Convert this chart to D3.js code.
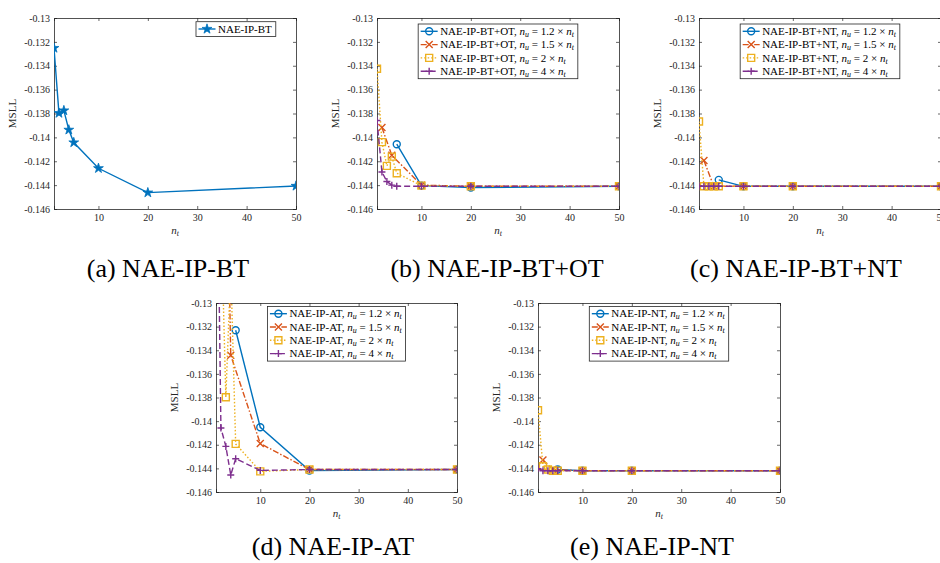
<!DOCTYPE html>
<html>
<head>
<meta charset="utf-8">
<script src="https://cdn.jsdelivr.net/npm/d3@7"></script>
<style>
  body { margin: 0; background: #fff; }
  svg { display: block; }
</style>
</head>
<body>
<div class="figure"></div>
<script>
// x positions (n_t) used by each n_u ratio
const ntAll = [1, 2, 3, 4, 5, 10, 20, 50];
const nt12 = [5, 10, 20, 50];
const nt15 = [2, 4, 10, 20, 50];

const xTicks = [10, 20, 30, 40, 50];
const yTicks = [-0.146, -0.144, -0.142, -0.14, -0.138, -0.136, -0.134, -0.132, -0.13];

// (a) NAE-IP-BT
const msllBT = [-0.13252, -0.13797, -0.13775, -0.13937, -0.14043, -0.14259, -0.14463, -0.14407];

// (b) NAE-IP-BT+OT
const btot12 = [-0.14057, -0.14404, -0.14420, -0.14410];
const btot15 = [-0.13918, -0.14150, -0.14400, -0.14410, -0.14410];
const btot2 = [-0.13425, -0.14040, -0.14239, -0.14161, -0.14300, -0.14404, -0.14410, -0.14410];
const btot4 = [-0.13859, -0.14290, -0.14370, -0.14400, -0.14410, -0.14410, -0.14410, -0.14410];

// (c) NAE-IP-BT+NT
const btnt12 = [-0.14356, -0.14410, -0.14410, -0.14410];
const btnt15 = [-0.14194, -0.14410, -0.14410, -0.14410, -0.14410];
const btnt2 = [-0.13867, -0.14410, -0.14410, -0.14410, -0.14410, -0.14410, -0.14410, -0.14410];
const btnt4 = [-0.14410, -0.14410, -0.14410, -0.14410, -0.14410, -0.14410, -0.14410, -0.14410];

// (d) NAE-IP-AT
const at12 = [-0.13231, -0.14052, -0.14419, -0.14410];
const at15 = [-0.09000, -0.13443, -0.14190, -0.14410, -0.14410];
const at2 = [-0.11800, -0.12200, -0.13798, -0.12700, -0.14193, -0.14425, -0.14410, -0.14410];
const at4 = [-0.10900, -0.14058, -0.14214, -0.14456, -0.14318, -0.14417, -0.14410, -0.14410];

// (e) NAE-IP-NT
const nt12v = [-0.14410, -0.14420, -0.14420, -0.14420];
const nt15v = [-0.14330, -0.14410, -0.14420, -0.14420, -0.14420];
const nt2v = [-0.13908, -0.14382, -0.14410, -0.14420, -0.14420, -0.14420, -0.14420, -0.14420];
const nt4v = [-0.14402, -0.14420, -0.14420, -0.14420, -0.14420, -0.14420, -0.14420, -0.14420];

const ratios = ['1.2', '1.5', '2', '4'];

const colors = ['#0072BD', '#D95319', '#EDB120', '#7E2F8E'];
const dashes = [null, '6,2,1.5,2', '1.5,2', '6,3'];
const markers = ['circle', 'x', 'square', 'plus'];

const width = 940;
const height = 563;
const axisColor = '#262626';
const serif = '"Liberation Serif", "Times New Roman", Times, serif';

const svg = d3.select('.figure')
    .append('svg')
    .attr('width', width)
    .attr('height', height)
    .style('font-family', serif);

function markerPath(type, s) {
    const h = s / 2;
    if (type == 'circle') {
        return d3.symbol(d3.symbolCircle, Math.PI * h * h)();
    }
    if (type == 'square') {
        return `M${-h},${-h}H${h}V${h}H${-h}Z`;
    }
    if (type == 'x') {
        return `M${-h},${-h}L${h},${h}M${-h},${h}L${h},${-h}`;
    }
    if (type == 'plus') {
        return `M${-h},0H${h}M0,${-h}V${h}`;
    }
    if (type == 'star') {
        return d3.symbol(d3.symbolStar, 30)();
    }
}

function drawMarker(g, type, color, cx, cy) {
    const m = g.append('path')
        .attr('transform', `translate(${cx},${cy})`)
        .attr('d', markerPath(type, 7))
        .attr('stroke', color)
        .attr('stroke-width', 1.4);
    if (type == 'star') {
        m.attr('fill', color).attr('stroke-width', 0.8);
    } else {
        m.attr('fill', 'none');
    }
}

function addSubscripted(textSel, parts) {
    // parts: [text, style] -> 'r' roman, 'i' italic, 's' italic subscript, 'r2' roman after subscript
    parts.forEach(p => {
        const t = textSel.append('tspan').text(p[0]);
        if (p[1] == 'i') t.style('font-style', 'italic');
        if (p[1] == 's') {
            t.style('font-style', 'italic')
                .attr('font-size', '0.72em')
                .attr('dy', '0.25em');
        }
        if (p[1] == 'r2') t.attr('dy', '-0.18em');
    });
}

function drawPanel(p) {
    const g = svg.append('g').attr('transform', `translate(${p.left},${p.top})`);

    const x = d3.scaleLinear().domain([1, 50]).range([0, p.w]);
    const y = d3.scaleLinear().domain([-0.146, -0.13]).range([p.h, 0]);

    const clipId = 'clip-' + p.id;
    g.append('clipPath').attr('id', clipId)
        .append('rect').attr('width', p.w).attr('height', p.h);

    const fmt = d => String(+d.toFixed(3));

    const bottom = g.append('g').attr('transform', `translate(0,${p.h})`)
        .call(d3.axisBottom(x).tickValues(xTicks).tickSize(-3).tickPadding(5));
    const top = g.append('g')
        .call(d3.axisTop(x).tickValues(xTicks).tickSize(-3).tickFormat(''));
    const left = g.append('g')
        .call(d3.axisLeft(y).tickValues(yTicks).tickSize(-3).tickPadding(4).tickFormat(fmt));
    const right = g.append('g').attr('transform', `translate(${p.w},0)`)
        .call(d3.axisRight(y).tickValues(yTicks).tickSize(-3).tickFormat(''));

    [bottom, top, left, right].forEach(a => {
        a.select('.domain').attr('stroke', axisColor).attr('stroke-width', 0.8);
        a.selectAll('.tick line').attr('stroke', axisColor).attr('stroke-width', 0.7);
        a.selectAll('.tick text')
            .attr('fill', axisColor)
            .style('font-family', serif)
            .style('font-size', '10px');
    });

    // y label
    g.append('text')
        .attr('transform', `translate(${-38},${p.h / 2}) rotate(-90)`)
        .attr('text-anchor', 'middle')
        .attr('fill', axisColor)
        .style('font-size', '11px')
        .text('MSLL');

    // x label
    const xl = g.append('text')
        .attr('x', p.w / 2)
        .attr('y', p.h + 25)
        .attr('text-anchor', 'middle')
        .attr('fill', axisColor)
        .style('font-size', '11px');
    addSubscripted(xl, [['n', 'i'], ['t', 's']]);

    const plot = g.append('g').attr('clip-path', `url(#${clipId})`);

    const line = d3.line().x(d => x(d[0])).y(d => y(d[1]));

    p.series.forEach(s => {
        const pts = s.xs.map((v, i) => [v, s.ys[i]]);
        const path = plot.append('path')
            .datum(pts)
            .attr('d', line)
            .attr('fill', 'none')
            .attr('stroke', s.color)
            .attr('stroke-width', 1.4);
        if (s.dash) path.attr('stroke-dasharray', s.dash);
        pts.forEach(d => drawMarker(plot, s.marker, s.color, x(d[0]), y(d[1])));
    });

    // legend
    const lg = g.append('g').attr('transform', `translate(${p.legend.x},${p.legend.y})`);
    const box = lg.append('rect')
        .attr('fill', '#fff')
        .attr('stroke', axisColor)
        .attr('stroke-width', 0.8);
    let maxW = 0;
    p.series.forEach((s, i) => {
        const cy = 7.3 + i * 13.3;
        const l = lg.append('line')
            .attr('x1', 2.5).attr('x2', 19.5)
            .attr('y1', cy).attr('y2', cy)
            .attr('stroke', s.color)
            .attr('stroke-width', 1.4);
        if (s.dash) l.attr('stroke-dasharray', s.dash);
        drawMarker(lg, s.marker, s.color, 11, cy);
        const t = lg.append('text')
            .attr('x', 22)
            .attr('y', cy + 3.8)
            .attr('fill', '#000')
            .style('font-size', '11px');
        addSubscripted(t, s.label);
        maxW = Math.max(maxW, t.node().getComputedTextLength());
    });
    const bw = 22 + maxW + 4;
    const bh = 13.3 * p.series.length + 1.5;
    box.attr('width', bw).attr('height', bh);
    if (p.legend.center) {
        lg.attr('transform', `translate(${p.w / 2 - bw / 2},${p.legend.y})`);
    }

    // caption
    svg.append('text')
        .attr('x', p.capX)
        .attr('y', p.capY)
        .attr('text-anchor', 'middle')
        .attr('fill', '#000')
        .style('font-size', '26px')
        .text(p.caption);
}

function fourSeries(name, vals) {
    const xsList = [nt12, nt15, ntAll, ntAll];
    return vals.map((v, i) => ({
        xs: xsList[i],
        ys: v,
        color: colors[i],
        dash: dashes[i],
        marker: markers[i],
        label: [[name + ', ', 'r'], ['n', 'i'], ['u', 's'], [' = ' + ratios[i] + ' \u00d7 ', 'r2'], ['n', 'i'], ['t', 's']]
    }));
}

const panels = [
    {
        id: 'a', left: 54, top: 18, w: 242, h: 191,
        caption: '(a) NAE-IP-BT', capX: 168, capY: 277,
        legend: { x: 142, y: 3.7, center: false },
        series: [{
            xs: ntAll, ys: msllBT, color: colors[0], dash: null, marker: 'star',
            label: [['NAE-IP-BT', 'r']]
        }]
    },
    {
        id: 'b', left: 377, top: 18, w: 242, h: 191,
        caption: '(b) NAE-IP-BT+OT', capX: 497, capY: 277,
        legend: { x: 37, y: 6, center: true },
        series: fourSeries('NAE-IP-BT+OT', [btot12, btot15, btot2, btot4])
    },
    {
        id: 'c', left: 699, top: 18, w: 242, h: 191,
        caption: '(c) NAE-IP-BT+NT', capX: 796, capY: 277,
        legend: { x: 38, y: 6, center: true },
        series: fourSeries('NAE-IP-BT+NT', [btnt12, btnt15, btnt2, btnt4])
    },
    {
        id: 'd', left: 216, top: 303, w: 241, h: 189,
        caption: '(d) NAE-IP-AT', capX: 333, capY: 555,
        legend: { x: 46, y: 3.4, center: true },
        series: fourSeries('NAE-IP-AT', [at12, at15, at2, at4])
    },
    {
        id: 'e', left: 538, top: 303, w: 242, h: 189,
        caption: '(e) NAE-IP-NT', capX: 652, capY: 555,
        legend: { x: 49, y: 3.4, center: true },
        series: fourSeries('NAE-IP-NT', [nt12v, nt15v, nt2v, nt4v])
    }
];

panels.forEach(drawPanel);
</script>
</body>
</html>
